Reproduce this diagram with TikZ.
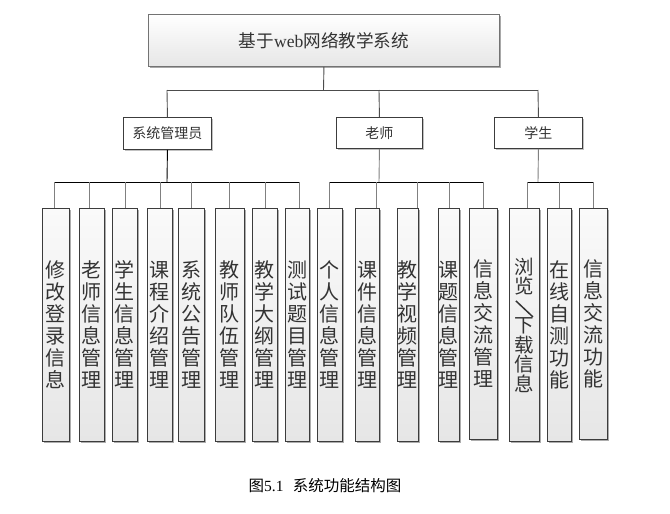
\documentclass[tikz,border=0pt]{standalone}
\usepackage{fontspec}
\setmainfont{Noto Sans CJK SC}
\newfontfamily\latinserif{Liberation Serif}
\usetikzlibrary{shadows}
\definecolor{boxline}{HTML}{3C3C3C}
\definecolor{txt}{HTML}{333333}
\definecolor{leaftop}{HTML}{FAFAFA}
\definecolor{leafbot}{HTML}{E6E6E6}
\definecolor{tick}{HTML}{808080}
\tikzset{
  conn/.style={line width=0.9pt, draw=black},
  tickline/.style={line width=0.9pt, draw=tick},
  titlebox/.style={draw=gray!90!black, line width=0.9pt, top color=white, bottom color=leafbot,
    anchor=north west, inner sep=0pt, text=txt, font=\fontsize{17.6}{20}\selectfont,
    drop shadow={shadow xshift=2pt, shadow yshift=-2pt, fill=gray!75, opacity=0.9}},
  midbox/.style={draw=boxline, line width=0.9pt, fill=white, anchor=north west, inner sep=0pt,
    text=txt, font=\fontsize{14}{16}\selectfont,
    drop shadow={shadow xshift=1.2pt, shadow yshift=-1.2pt, fill=gray!60, opacity=0.8}},
  leaf/.style={draw=boxline, line width=0.9pt, top color=leaftop, bottom color=leafbot,
    anchor=north west, inner sep=0pt, minimum height=233pt, align=center, text=txt,
    font=\fontsize{20}{22}\selectfont,
    drop shadow={shadow xshift=2pt, shadow yshift=-2pt, fill=gray!75, opacity=0.85}},
  slashmark/.style={line width=1.5pt, draw=txt},
}
\begin{document}
\begin{tikzpicture}[x=1pt,y=-1pt]
\useasboundingbox (0,0) rectangle (670,514);
% title
\node[titlebox, minimum width=351pt, minimum height=52pt] (top) at (148,14)
  {基于{\latinserif web}网络教学系统};
% level 2
\node[midbox, minimum width=88pt, minimum height=32pt] (admin) at (123,117) {系统管理员};
\node[midbox, minimum width=86pt, minimum height=31pt] (teacher) at (336,117) {老师};
\node[midbox, minimum width=88pt, minimum height=31pt] (student) at (494,117) {学生};
% leaves
\node[leaf, minimum width=27pt] (b1) at (42,208) {修\\改\\登\\录\\信\\息};
\node[leaf, minimum width=25pt] (b2) at (79,208) {老\\师\\信\\息\\管\\理};
\node[leaf, minimum width=25pt] (b3) at (112,208) {学\\生\\信\\息\\管\\理};
\node[leaf, minimum width=25pt] (b4) at (147,208) {课\\程\\介\\绍\\管\\理};
\node[leaf, minimum width=26pt] (b5) at (178,208) {系\\统\\公\\告\\管\\理};
\node[leaf, minimum width=29pt] (b6) at (215,208) {教\\师\\队\\伍\\管\\理};
\node[leaf, minimum width=25pt] (b7) at (252,208) {教\\学\\大\\纲\\管\\理};
\node[leaf, minimum width=24pt] (b8) at (285,208) {测\\试\\题\\目\\管\\理};
\node[leaf, minimum width=25pt] (b9) at (317,208) {个\\人\\信\\息\\管\\理};
\node[leaf, minimum width=24pt] (b10) at (355,208) {课\\件\\信\\息\\管\\理};
\node[leaf, minimum width=21pt] (b11) at (397,208) {教\\学\\视\\频\\管\\理};
\node[leaf, minimum width=21pt] (b12) at (438,208) {课\\题\\信\\息\\管\\理};
\node[leaf, minimum width=28pt, minimum height=231pt] (b13) at (469,208) {信\\息\\交\\流\\管\\理};
\node[leaf, minimum width=30pt, font=\fontsize{19.5}{19.5}\selectfont] (b14) at (509,208)
  {浏\\览\\\mbox{}\\下\\载\\信\\息};
\node[leaf, minimum width=24pt] (b15) at (547,208) {在\\线\\自\\测\\功\\能};
\node[leaf, minimum width=28pt, minimum height=231pt] (b16) at (579,208) {信\\息\\交\\流\\功\\能};
% slash in b14 (rotated "/" of vertical text)
\coordinate (s1) at ([xshift=-8.5pt, yshift=24pt]b14.center);
\coordinate (s2) at ([xshift=8.5pt, yshift=8pt]b14.center);
\draw[slashmark] (s1) -- (s2);
% top trunk
\coordinate (h0) at (323.5,90);
\coordinate (hL) at (167,90);
\coordinate (hT) at (379,90);
\coordinate (hR) at (538,90);
\draw[conn, draw=gray!60!black] (top.south) -- (h0);
\draw[conn, draw=gray!60!black] (hL) -- (hR);
\draw[conn, draw=gray!60!black] (hL) -- (admin.north);
\draw[conn, draw=gray!60!black] (hT) -- (teacher.north);
\draw[conn, draw=gray!60!black] (hR) -- (student.north);
% buses
\coordinate (aB) at (167,182);
\coordinate (tB) at (379,182);
\coordinate (sB) at (538,182);
\draw[conn] (admin.south) -- (aB);
\draw[tickline] (teacher.south) -- (tB);
\draw[tickline] (student.south) -- (sB);
\coordinate (t1) at (54,182);
\coordinate (t2) at (89,182);
\coordinate (t3) at (125,182);
\coordinate (t4) at (160,182);
\coordinate (t5) at (191,182);
\coordinate (t6) at (229,182);
\coordinate (t7) at (265,182);
\coordinate (t8) at (299,182);
\coordinate (t9) at (329,182);
\coordinate (t10) at (376,182);
\coordinate (t11) at (417,182);
\coordinate (t12) at (449,182);
\coordinate (t13) at (483,182);
\coordinate (t14) at (527,182);
\coordinate (t15) at (559,182);
\coordinate (t16) at (593,182);
\draw[conn] (t1) -- (t8);
\draw[conn] (t9) -- (t13);
\draw[conn] (t14) -- (t16);
\foreach \i in {1,...,16} {
  \draw[tickline] (t\i) -- (t\i |- b\i.north);
}
% caption
\node[text=black, font=\fontsize{15.5}{18}\selectfont] (cap) at (325,486)
  {图{\latinserif 5.1}\hspace{0.6em}系统功能结构图};
\end{tikzpicture}
\end{document}
